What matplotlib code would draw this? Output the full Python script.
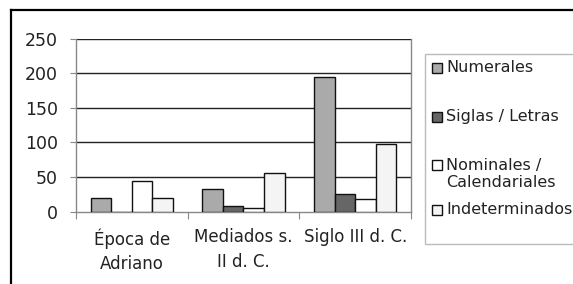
import matplotlib
matplotlib.use("Agg")
import matplotlib.pyplot as plt
from matplotlib.patches import Rectangle
from matplotlib.lines import Line2D
import numpy as np

categories = ["Época de\nAdriano", "Mediados s.\nII d. C.", "Siglo III d. C."]
series_names = ["Numerales", "Siglas / Letras", "Nominales /\nCalendariales", "Indeterminados"]
numerales = [20, 33, 195]
siglas = [0, 8, 25]
nominales = [44, 6, 18]
indeterminados = [20, 56, 98]
colors = ["#aaaaaa", "#666666", "#ffffff", "#f4f4f4"]
yticks = [0, 50, 100, 150, 200, 250]

W, H = 573, 284
fig = plt.figure(figsize=(W / 100, H / 100), dpi=100)
plt.rcParams['font.family'] = ['DejaVu Sans']

def fx(px):
    return px / W

def fy(py):
    return 1 - py / H

ax = fig.add_axes([fx(76), fy(211.7), fx(411) - fx(76), fy(38.5) - fy(211.7)])

data = [numerales, siglas, nominales, indeterminados]
x = np.arange(len(categories))
bw = 0.185
for i, vals in enumerate(data):
    ax.bar(x + (i - 1.5) * bw, vals, width=bw, color=colors[i], edgecolor="#111111",
           linewidth=1.0, zorder=3)

ax.set_xlim(-0.5, 2.5)
ax.set_ylim(0, 250)
ax.set_yticks(yticks)
ax.set_yticklabels([str(t) for t in yticks], fontsize=12.5, color="#222222")
for t in yticks[1:]:
    ax.axhline(t, color="#222222", lw=1.0, zorder=1)

ax.set_xticks([-0.5, 0.5, 1.5, 2.5])
ax.set_xticklabels([])
ax.set_xticks(x, minor=True)
ax.set_xticklabels(categories, minor=True, fontsize=12, color="#222222", linespacing=1.45)
ax.tick_params(axis="x", which="major", direction="out", length=5, color="#888888")
ax.tick_params(axis="x", which="minor", length=0, pad=12)
ax.tick_params(axis="y", direction="out", length=4, color="#888888", pad=9)

for s in ["left", "right", "bottom"]:
    ax.spines[s].set_color("#888888")
    ax.spines[s].set_linewidth(1.0)
ax.spines["top"].set_visible(False)

# figure frame lines (top and left)
fig.add_artist(Line2D([fx(10.5), 1.0], [fy(10), fy(10)], color="black", lw=1.6))
fig.add_artist(Line2D([fx(10.5), fx(10.5)], [fy(10), 0.0], color="black", lw=1.6))

# legend box
fig.add_artist(Rectangle((fx(425), fy(244)), 1.0, fy(53.5) - fy(244), transform=fig.transFigure,
                         facecolor="white", edgecolor="#bbbbbb", lw=1.0))
label_y = [68, 116.7, 174, 210]
for name, col, yy in zip(series_names, colors, label_y):
    first_line_y = yy - 9 if "\n" in name else yy
    fig.add_artist(Rectangle((fx(432), fy(first_line_y + 5)), fx(10), fy(0) - fy(10),
                             transform=fig.transFigure, facecolor=col, edgecolor="#111111", lw=1.0))
    fig.text(fx(446), fy(yy), name, fontsize=11.5, va="center", ha="left", color="#222222",
             linespacing=1.15)

fig.savefig("out.png", dpi=100)
